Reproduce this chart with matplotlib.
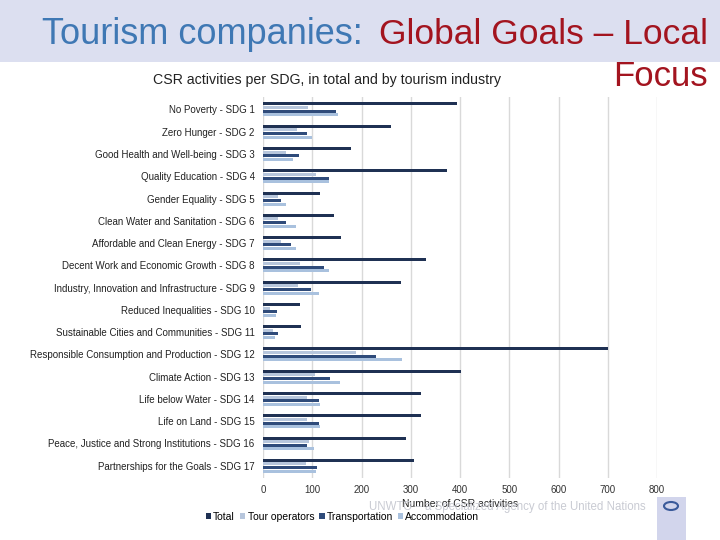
import matplotlib
matplotlib.use("Agg")
import matplotlib.pyplot as plt
from matplotlib.patches import Rectangle, Ellipse
import numpy as np

plt.rcParams['font.family'] = ['Liberation Sans', 'DejaVu Sans']

categories = [
    "No Poverty - SDG 1", "Zero Hunger - SDG 2", "Good Health and Well-being - SDG 3",
    "Quality Education - SDG 4", "Gender Equality - SDG 5", "Clean Water and Sanitation - SDG 6",
    "Affordable and Clean Energy - SDG 7", "Decent Work and Economic Growth - SDG 8",
    "Industry, Innovation and Infrastructure - SDG 9", "Reduced Inequalities - SDG 10",
    "Sustainable Cities and Communities - SDG 11", "Responsible Consumption and Production - SDG 12",
    "Climate Action - SDG 13", "Life below Water - SDG 14", "Life on Land - SDG 15",
    "Peace, Justice and Strong Institutions - SDG 16", "Partnerships for the Goals - SDG 17",
]
total = [394, 260, 179, 374, 115, 144, 159, 331, 281, 75, 77, 701, 403, 321, 321, 291, 307]
tour_operators = [91, 70, 46, 107, 31, 30, 36, 76, 72, 15, 20, 189, 106, 90, 90, 93, 88]
transportation = [148, 90, 74, 135, 36, 46, 56, 123, 97, 29, 31, 229, 137, 113, 113, 90, 110]
accommodation = [153, 99, 60, 133, 46, 66, 68, 133, 113, 26, 24, 282, 157, 116, 116, 104, 108]
series_names = ["Total", "Tour operators", "Transportation", "Accommodation"]
xticks = [0, 100, 200, 300, 400, 500, 600, 700, 800]

colors = ["#1f3153", "#b7c6dc", "#2f4b7a", "#a9c1de"]

W, H = 720, 540
fig = plt.figure(figsize=(7.2, 5.4), dpi=100)

# header band
fig.patches.append(Rectangle((0, 1 - 62 / H), 1, 62 / H, transform=fig.transFigure,
                             facecolor="#dcdff0", edgecolor="none", zorder=0))
fig.text(42 / W, 1 - 34 / H, "Tourism companies:", color="#3f78b4", fontsize=26,
         ha="left", va="center")
fig.text(708 / W, 1 - 34 / H, "Global Goals \u2013 Local", color="#a3141f", fontsize=25.5,
         ha="right", va="center")
fig.text(708 / W, 1 - 76 / H, "Focus", color="#a3141f", fontsize=25,
         ha="right", va="center")
fig.text(327 / W, 1 - 80 / H, "CSR activities per SDG, in total and by tourism industry",
         fontsize=10.2, ha="center", va="center", color="#222222")

ax = fig.add_axes([263 / W, 1 - 478 / H, (657 - 263) / W, (478 - 97) / H])
y = np.arange(len(categories))
step = 0.164
hgt = 0.135
data = [total, tour_operators, transportation, accommodation]
for i, (vals, c, name) in enumerate(zip(data, colors, series_names)):
    ax.barh(y + (i - 1.5) * step, vals, height=hgt, color=c, label=name, zorder=3)

ax.set_xlim(0, 800)
ax.set_ylim(16.55, -0.56)
ax.set_xticks(xticks)
ax.set_xticklabels([str(t) for t in xticks], fontsize=7, color="#333333")
ax.set_yticks(y)
ax.set_yticklabels(categories, fontsize=7, color="#222222")
ax.tick_params(axis="both", length=0)
ax.tick_params(axis="x", pad=5)
ax.tick_params(axis="y", pad=6)
ax.grid(axis="x", color="#d9d9d9", linewidth=1, zorder=0)
for s in ax.spines.values():
    s.set_visible(False)
ax.set_xlabel("Number of CSR activities", fontsize=7.5, color="#222222", labelpad=3)

# watermark
fig.text(507 / W, 1 - 507 / H, "UNWTO \u2013 a Specialized Agency of the United Nations",
         fontsize=8.3, color="#c9cbd3", ha="center", va="center", zorder=0)
fig.patches.append(Rectangle((657 / W, 0), 29 / W, 43 / H, transform=fig.transFigure,
                             facecolor="#d2d5ec", edgecolor="none", zorder=0))
fig.patches.append(Ellipse((671 / W, 1 - 506 / H), 14 / W, 8 / H, transform=fig.transFigure,
                           facecolor="none", edgecolor="#3a5a9a", linewidth=1.5, zorder=1))

fig.legend(loc="center left", bbox_to_anchor=(206 / W, 1 - 517 / H), ncol=4,
           frameon=False, fontsize=7.5, handlelength=0.5, handleheight=0.5,
           handletextpad=0.2, columnspacing=0.5, borderpad=0, borderaxespad=0)

fig.savefig("out.png", dpi=100)
